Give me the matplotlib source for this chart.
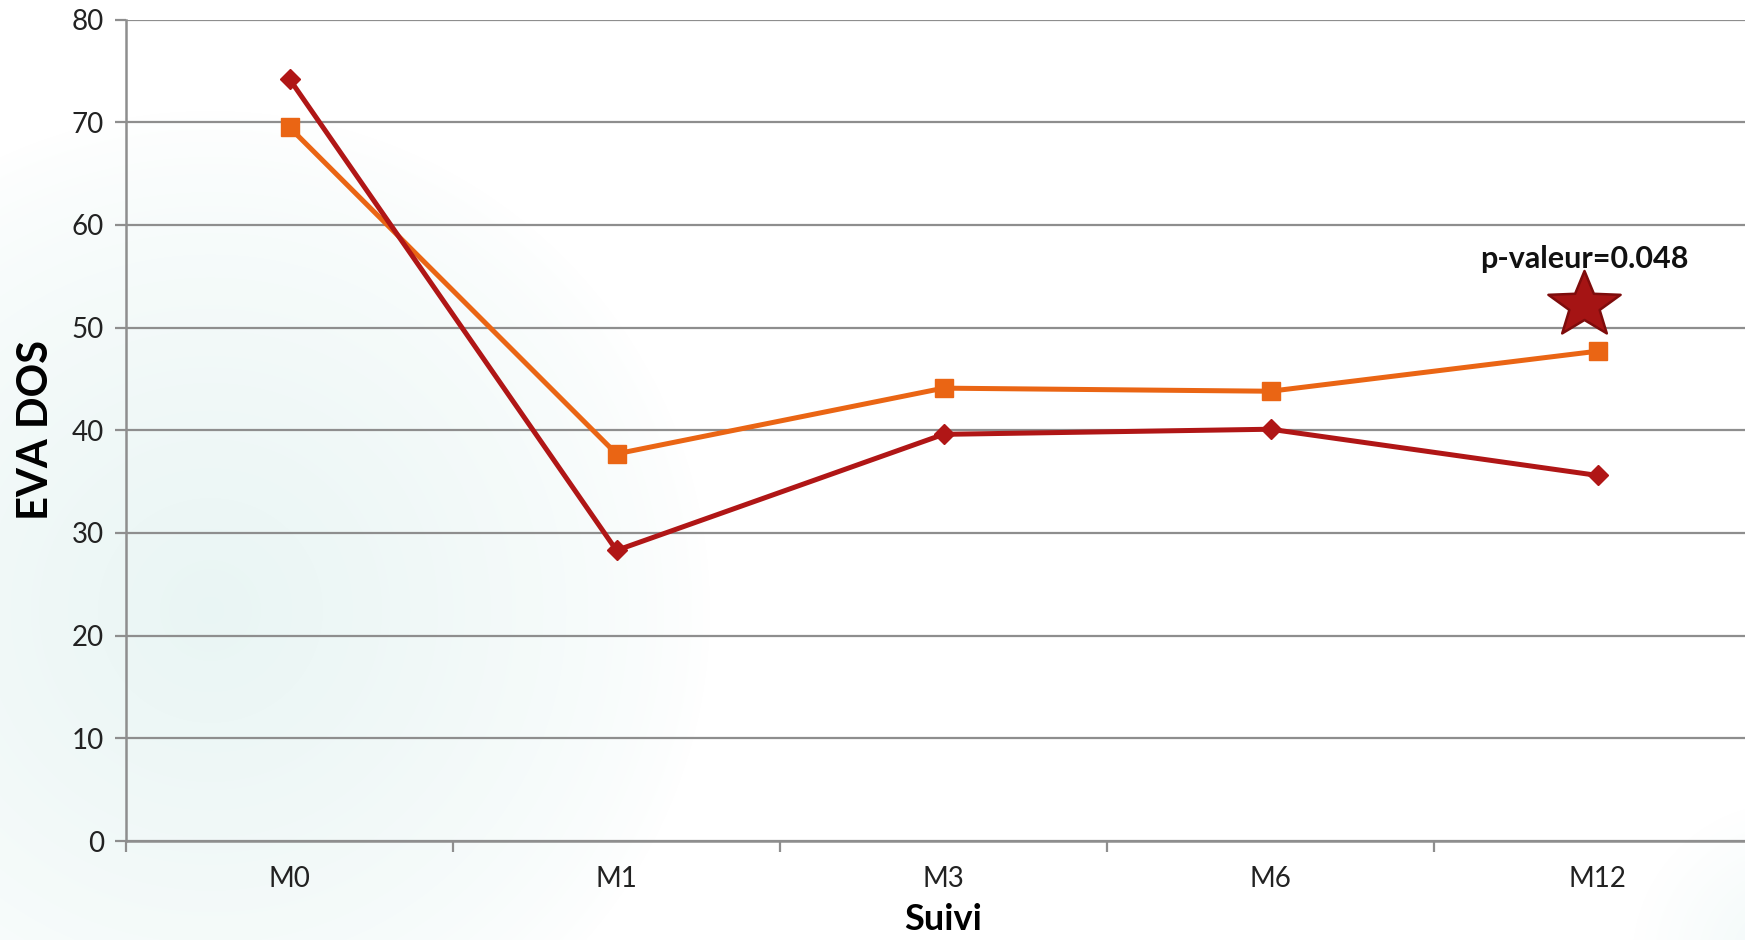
import numpy as np
import matplotlib
matplotlib.use("Agg")
import matplotlib.pyplot as plt
from matplotlib.path import Path

plt.rcParams['font.family'] = ['Lato', 'DejaVu Sans']

visits = ['M0', 'M1', 'M3', 'M6', 'M12']
eva_red = [74.2, 28.3, 39.6, 40.1, 35.6]
eva_orange = [69.5, 37.7, 44.1, 43.8, 47.7]
star_pos = (3.96, 52.2)
pval_text = 'p-valeur=0.048'

red = '#b01616'
orange = '#ea6514'
grid_col = '#8e8e8e'

# five-point star with fairly wide arms
ang = np.pi / 2 + np.arange(10) * np.pi / 5
rad = np.where(np.arange(10) % 2 == 0, 1.0, 0.42)
star_verts = np.column_stack([rad * np.cos(ang) * 1.1, rad * np.sin(ang)])
star_marker = Path(np.vstack([star_verts, star_verts[:1]]), closed=True)

fig = plt.figure(figsize=(17.45, 9.4), dpi=100)

# soft teal wash in the lower corners
bg = fig.add_axes([0, 0, 1, 1], zorder=-10)
W, H = 1745, 940
xx, yy = np.meshgrid(np.arange(W), np.arange(H))
d1 = np.hypot(xx - 210, yy - 610) / 500.0
d2 = np.hypot(xx - 1790, yy - 960) / 160.0
a = np.clip(1 - d1, 0, 1) ** 0.7 * 0.6 + np.clip(1 - d2, 0, 1) * 0.4
img = np.ones((H, W, 4))
img[..., 0] = 0.86
img[..., 1] = 0.94
img[..., 2] = 0.93
img[..., 3] = np.clip(a, 0, 1)
bg.imshow(img, aspect='auto', extent=[0, 1, 0, 1], origin='upper')
bg.axis('off')

ax = fig.add_axes([126 / W, (H - 841) / H, 1635 / W, (841 - 19.5) / H])
ax.patch.set_alpha(0)
x = np.arange(len(visits))

ax.plot(x, eva_orange, color=orange, lw=3.6, marker='s', ms=13, zorder=3)
ax.plot(x, eva_red, color=red, lw=3.6, marker='D', ms=10, zorder=4)

ax.plot(*star_pos, marker=star_marker, ms=52, color='#a51414', mec='#7e0c0c', mew=1.8, zorder=5)
ax.text(star_pos[0], 56.7, pval_text, ha='center', va='center', fontsize=22,
        fontweight='bold', color='#111111')

ax.set_xlim(-0.5, 4.5)
ax.set_ylim(0, 80)
ax.set_yticks(np.arange(0, 81, 10))
ax.yaxis.grid(True, color=grid_col, lw=1.6)
ax.set_axisbelow(True)

ax.set_xticks(x)
ax.set_xticklabels(visits)
ax.set_xticks(np.arange(-0.5, 4.6, 1), minor=True)
ax.tick_params(axis='x', which='major', length=0, pad=18, labelsize=20, labelcolor='#222222')
ax.tick_params(axis='x', which='minor', length=8, width=1.6, color=grid_col)
ax.tick_params(axis='y', length=8, width=1.6, color=grid_col, pad=8, labelsize=20,
               labelcolor='#222222')

for s in ['top', 'right']:
    ax.spines[s].set_visible(False)
for s in ['left', 'bottom']:
    ax.spines[s].set_color(grid_col)
    ax.spines[s].set_linewidth(1.8)

ax.set_xlabel('Suivi', fontsize=26, fontweight='bold', labelpad=8)
ax.set_ylabel('EVA DOS', fontsize=30, fontweight='bold', labelpad=12)

fig.savefig('out.png', dpi=100)
